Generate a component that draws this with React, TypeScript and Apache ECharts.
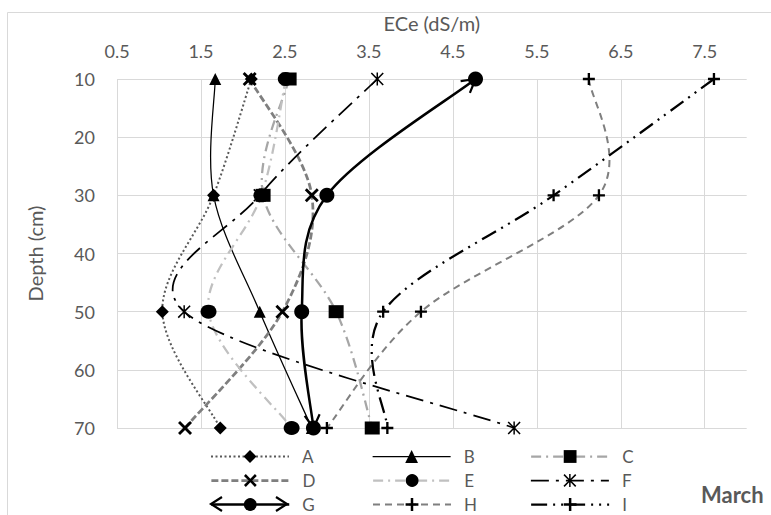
import React, { useEffect, useRef } from 'react';
import * as echarts from 'echarts';

// ---- data ----
const depths = [10, 30, 50, 70];
const names = ['A', 'B', 'C', 'D', 'E', 'F', 'G', 'H', 'I'];
const A = [2.1, 1.65, 1.04, 1.73];
const B = [1.67, 1.65, 2.2, 2.82];
const C = [2.55, 2.24, 3.11, 3.54];
const D = [2.08, 2.82, 2.47, 1.31];
const E = [2.51, 2.22, 1.59, 2.58];
const F = [3.6, 2.2, 1.3, 5.23];
const G = [4.77, 3.0, 2.7, 2.84];
const H = [6.12, 6.24, 4.12, 3.0];
const I = [7.61, 5.7, 3.67, 3.72];
const values = [A, B, C, D, E, F, G, H, I];
const xMin = 0.5;
const xMax = 8;
const xStep = 1;
const yMin = 10;
const yMax = 70;
const yStep = 10;

// ---- styles ----
const FONT = "Lato, 'Noto Sans', sans-serif";
const TXT = '#595959';
const GRID = '#d9d9d9';
const X_PATH = 'path://M0,2 L2,0 L7,5 L12,0 L14,2 L9,7 L14,12 L12,14 L7,9 L2,14 L0,12 L5,7 Z';
const PLUS_PATH = 'path://M5,0 L7.4,0 L7.4,5 L12.4,5 L12.4,7.4 L7.4,7.4 L7.4,12.4 L5,12.4 L5,7.4 L0,7.4 L0,5 L5,5 Z';
const STAR_PATH = 'path://M6.2,0 L7.8,0 L7.8,14 L6.2,14 Z M0,1.2 L1.2,0 L7,5.8 L12.8,0 L14,1.2 L8.2,7 L14,12.8 L12.8,14 L7,8.2 L1.2,14 L0,12.8 L5.8,7 Z';

const styles: any[] = [
  { color: '#595959', width: 2, dash: [2, 2.5], symbol: 'diamond', size: 13 },
  { color: '#000000', width: 1.25, dash: null, symbol: 'triangle', size: 12 },
  { color: '#a6a6a6', width: 2.25, dash: [10, 5, 2, 5], symbol: 'rect', size: [15, 13] },
  { color: '#7f7f7f', width: 2.75, dash: [7, 3], symbol: X_PATH, size: 14 },
  { color: '#c0c0c0', width: 2.25, dash: [10, 5, 2, 5], symbol: 'circle', size: [16, 14] },
  { color: '#000000', width: 1.75, dash: [18, 7, 3, 7], symbol: STAR_PATH, size: 13 },
  { color: '#000000', width: 2.5, dash: null, symbol: 'circle', size: 15 },
  { color: '#7f7f7f', width: 2, dash: [7, 5], symbol: PLUS_PATH, size: 12 },
  { color: '#000000', width: 2.25, dash: [16, 6, 2, 6, 2, 6], symbol: PLUS_PATH, size: 12 },
];
const ARROW_SERIES = 6; // G has open arrowheads at both ends
const TENSION = 1 / 6;

const legendCols = [210, 372, 530];
const legendRows = [456, 480, 504];

function bezierPath(pts: number[][]) {
  let d = `M${pts[0][0]},${pts[0][1]}`;
  const ctrl: number[][][] = [];
  for (let i = 0; i < pts.length - 1; i++) {
    const p0 = pts[i - 1] || pts[i];
    const p1 = pts[i];
    const p2 = pts[i + 1];
    const p3 = pts[i + 2] || p2;
    const c1 = [p1[0] + (p2[0] - p0[0]) * TENSION, p1[1] + (p2[1] - p0[1]) * TENSION];
    const c2 = [p2[0] - (p3[0] - p1[0]) * TENSION, p2[1] - (p3[1] - p1[1]) * TENSION];
    ctrl.push([c1, c2]);
    d += ` C${c1[0]},${c1[1]} ${c2[0]},${c2[1]} ${p2[0]},${p2[1]}`;
  }
  return { d, ctrl };
}

function arrowHead(tip: number[], from: number[]) {
  const dx = tip[0] - from[0];
  const dy = tip[1] - from[1];
  const len = Math.sqrt(dx * dx + dy * dy) || 1;
  const ux = dx / len;
  const uy = dy / len;
  const L = 13;
  const W = 7.5;
  return [
    [tip[0] - ux * L - uy * W, tip[1] - uy * L + ux * W],
    [tip[0], tip[1]],
    [tip[0] - ux * L + uy * W, tip[1] - uy * L - ux * W],
  ];
}

function buildSeries() {
  const lines: any[] = names.map((n, i) => ({
    name: n + '-line',
    type: 'custom',
    data: values[i].map((v, j) => [v, depths[j]]),
    encode: { x: 0, y: 1 },
    silent: true,
    z: 1,
    renderItem: (params: any, api: any) => {
      if (params.dataIndex !== 0) return null;
      const pts = values[i].map((v, j) => api.coord([v, depths[j]]));
      const { d, ctrl } = bezierPath(pts);
      const st = styles[i];
      const children: any[] = [
        {
          type: 'path',
          shape: { pathData: d },
          style: {
            fill: 'none', stroke: st.color, lineWidth: st.width,
            lineDash: st.dash || undefined, lineCap: 'butt',
          },
        },
      ];
      if (i === ARROW_SERIES) {
        const last = pts.length - 1;
        const startDir = ctrl[0][0];
        const endDir = ctrl[ctrl.length - 1][1];
        [arrowHead(pts[0], startDir), arrowHead(pts[last], endDir)].forEach((p) => {
          children.push({
            type: 'polyline',
            shape: { points: p },
            style: { fill: 'none', stroke: '#000', lineWidth: 2.2 },
          });
        });
      }
      return { type: 'group', children };
    },
  }));
  const marks: any[] = names.map((n, i) => ({
    name: n,
    type: 'line',
    data: values[i].map((v, j) => [v, depths[j]]),
    clip: false,
    symbol: styles[i].symbol,
    symbolSize: styles[i].size,
    showSymbol: true,
    itemStyle: { color: '#000000' },
    lineStyle: { opacity: 0 },
    emphasis: { disabled: true },
    z: 3,
  }));
  return [...lines, ...marks];
}

export default function App() {
  const ref = useRef<HTMLDivElement>(null);
  useEffect(() => {
    if (!ref.current) return;
    const chart = echarts.init(ref.current, null, { renderer: 'svg' });
    const c0 = legendCols[0];
    const r2 = legendRows[2];
    const option: any = {
      animation: false,
      backgroundColor: '#ffffff',
      textStyle: { fontFamily: FONT },
      grid: { left: 117, top: 79, right: 24.3, bottom: 87, containLabel: false },
      xAxis: {
        type: 'value',
        position: 'top',
        min: xMin,
        max: xMax,
        interval: xStep,
        name: 'ECe (dS/m)',
        nameLocation: 'middle',
        nameGap: 46,
        nameTextStyle: { color: TXT, fontSize: 20, fontFamily: FONT },
        axisLine: { show: false },
        axisTick: { show: false },
        axisLabel: {
          color: TXT, fontSize: 18, fontFamily: FONT, margin: 19,
          showMaxLabel: false,
          formatter: (v: number) => v.toFixed(1),
        },
        splitLine: { show: true, showMaxLine: false, lineStyle: { color: GRID, width: 1 } },
      },
      yAxis: {
        type: 'value',
        inverse: true,
        min: yMin,
        max: yMax,
        interval: yStep,
        name: 'Depth (cm)',
        nameLocation: 'middle',
        nameGap: 72,
        nameRotate: 90,
        nameTextStyle: { color: TXT, fontSize: 20, fontFamily: FONT },
        axisLine: { show: false },
        axisTick: { show: false },
        axisLabel: { color: TXT, fontSize: 18, fontFamily: FONT, margin: 22 },
        splitLine: { show: true, lineStyle: { color: GRID, width: 1 } },
      },
      legend: names.map((n, i) => ({
        data: [n],
        left: legendCols[i % 3],
        top: legendRows[Math.floor(i / 3)] - 8,
        itemWidth: 78,
        itemHeight: 16,
        padding: 0,
        selectedMode: false,
        lineStyle: {
          color: styles[i].color,
          width: styles[i].width,
          type: styles[i].dash || 'solid',
          opacity: 1,
        },
        textStyle: { color: TXT, fontSize: 17, fontFamily: FONT, padding: [0, 0, 0, 8] },
      })),
      graphic: [
        {
          type: 'rect', silent: true, z: -1,
          shape: { x: 7.5, y: 12.5, width: 820, height: 620 },
          style: { fill: 'none', stroke: GRID, lineWidth: 1 },
        },
        {
          type: 'polyline', silent: true, z: 10,
          shape: { points: [[c0 + 12, r2 - 7], [c0 + 1, r2], [c0 + 12, r2 + 7]] },
          style: { stroke: '#000', lineWidth: 2.2, fill: 'none' },
        },
        {
          type: 'polyline', silent: true, z: 10,
          shape: { points: [[c0 + 66, r2 - 7], [c0 + 77, r2], [c0 + 66, r2 + 7]] },
          style: { stroke: '#000', lineWidth: 2.2, fill: 'none' },
        },
        {
          type: 'text', silent: true,
          style: {
            text: 'March', x: 701, y: 494, verticalAlign: 'middle',
            fill: TXT, fontSize: 22, fontWeight: 'bold', fontFamily: FONT,
          },
        },
      ],
      series: buildSeries(),
    };
    chart.setOption(option);
    return () => chart.dispose();
  }, []);
  return (
    <div
      ref={ref}
      style={{ position: 'absolute', left: 0, top: 0, width: 771, height: 515 }}
    />
  );
}
